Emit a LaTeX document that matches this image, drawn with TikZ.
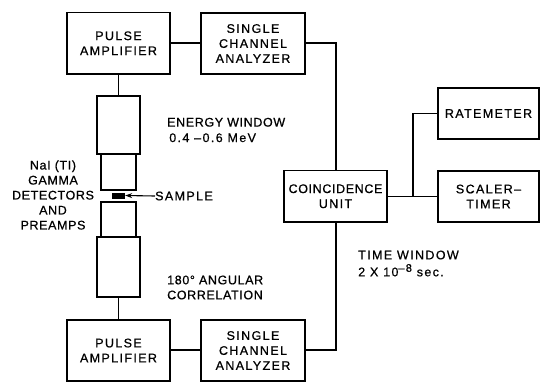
\documentclass[tikz,border=0pt]{standalone}
\usepackage{fontspec}
\setmainfont{Liberation Sans}[LetterSpace=5,FakeBold=0.7]
\usetikzlibrary{arrows.meta}
\newcommand{\wider}{\addfontfeature{LetterSpace=11}}
\tikzset{
  x=1pt,y=-1pt,
  lbl/.style={inner sep=0pt,font=\fontsize{12.5}{15}\selectfont,align=center,text=black},
  lbll/.style={lbl,anchor=west,align=left},
  wire/.style={line width=1.5pt},
}
\newcommand{\bx}[6]{\node[draw,line width=1.4pt,inner sep=0pt,minimum width=#4-#3,minimum height=#6-#5,lbl] (#1) at ({(#3+#4)/2},{(#5+#6)/2}) {#2};}
\begin{document}
\begin{tikzpicture}
\useasboundingbox (0,0) rectangle (540,381);
\begin{scope}
\clip (0,0) rectangle (540,381);
\bx{pa1}{\wider PULSE\\\wider AMPLIFIER}{67}{170}{12.5}{74}
\bx{sc1}{\wider SINGLE\\\wider CHANNEL\\\wider ANALYZER}{201}{305}{13}{74}
\bx{pa2}{\wider PULSE\\\wider AMPLIFIER}{67}{170}{320}{381}
\bx{sc2}{\wider SINGLE\\\wider CHANNEL\\\wider ANALYZER}{201}{305}{320}{381}
\bx{cu}{COINCIDENCE\\\wider UNIT}{284}{387}{170.5}{222}
\bx{st}{\wider SCALER--\\\wider TIMER}{438}{539}{171}{222}
\bx{rm}{\wider RATEMETER}{438}{539}{88}{139}
\bx{d1}{}{97}{140}{96}{154}
\bx{d2}{}{101}{136}{154}{190}
\bx{d3}{}{101}{136}{202}{237}
\bx{d4}{}{97}{140}{237}{297}
\node[fill=black,minimum width=13pt,minimum height=6pt,inner sep=0pt] (smp) at (118.5,195.5) {};
\end{scope}
\node[lbl] (nai) at (53,195) {NaI (TI)\\GAMMA\\DETECTORS\\AND\\PREAMPS};
\node[lbll] (sl) at (155,196) {\wider SAMPLE};
\node[lbll] (en) at (167,130) {ENERGY WINDOW\\[0.5pt]\,\wider 0.4 --0.6 MeV};
\node[lbll] (an) at (167,287.5) {180° ANGULAR\\CORRELATION};
\node[lbll] (tw) at (358,263.5) {\wider TIME WINDOW\\[2pt]\wider 2 X 10\raisebox{4.5pt}{\fontsize{11}{11}\selectfont --8} sec.};
\coordinate (j1) at (336,43);
\coordinate (j2) at (336,350);
\coordinate (j3) at (413,196.5);
\coordinate (j4) at (413,113.5);
\draw[wire] (pa1.south -| d1.north) -- (d1.north);
\draw[wire] (d4.south) -- (pa2.north -| d4.south);
\draw[wire] (pa1.east |- j1) -- (sc1.west |- j1);
\draw[wire] (pa2.east |- j2) -- (sc2.west |- j2);
\draw[wire] (sc1.east |- j1) -- (j1) -- (cu.north -| j1);
\draw[wire] (sc2.east |- j2) -- (j2) -- (cu.south -| j2);
\draw[wire] (cu.east |- j3) -- (st.west |- j3);
\draw[wire] (j3) -- (j4) -- (rm.west |- j4);
\draw[line width=1.1pt,-{Stealth[length=7pt,width=5pt]}] (sl.west) -- (smp.east);
\end{tikzpicture}
\end{document}
